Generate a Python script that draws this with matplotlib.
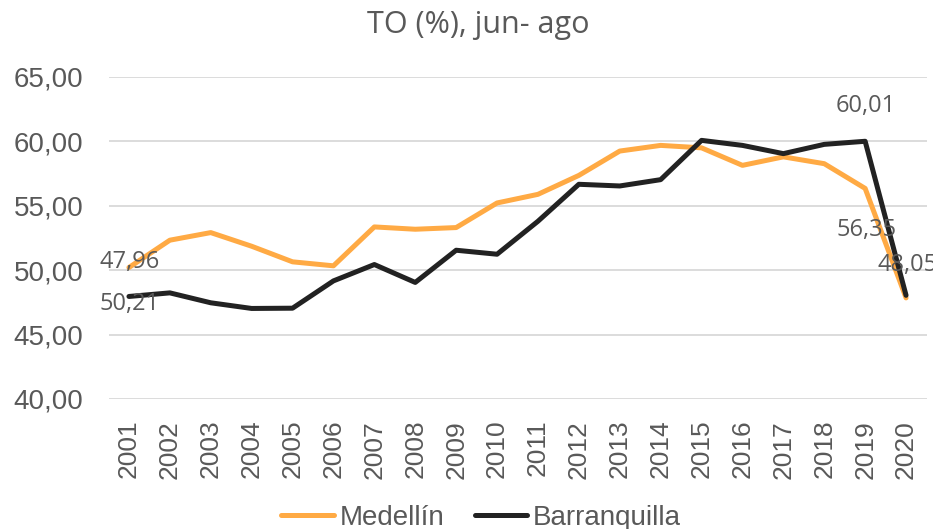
import matplotlib
matplotlib.use("Agg")
import matplotlib.pyplot as plt

years = [str(y) for y in range(2001, 2021)]
medellin = [50.21, 52.33, 52.92, 51.86, 50.65, 50.34, 53.36, 53.18, 53.31, 55.22,
            55.89, 57.36, 59.25, 59.69, 59.50, 58.14, 58.80, 58.27, 56.35, 47.85]
barranquilla = [47.96, 48.24, 47.47, 47.03, 47.05, 49.17, 50.44, 49.05, 51.55, 51.24,
                53.80, 56.67, 56.54, 57.03, 60.08, 59.69, 59.05, 59.77, 60.01, 48.05]

# (series, index, label text, offset in pixels)
labels = [
    (barranquilla, 0, "47,96", (1, 34)),
    (medellin, 0, "50,21", (1, -37)),
    (barranquilla, 18, "60,01", (1, 35)),
    (medellin, 18, "56,35", (1, -42)),
    (barranquilla, 19, "48,05", (2, 30)),
]

GRAY = "#595959"
plt.rcParams["font.family"] = ["Liberation Sans", "DejaVu Sans"]

fig = plt.figure(figsize=(9.33, 5.29), dpi=100)
ax = fig.add_axes([108.5 / 933, 1 - 399 / 529, 818 / 933, 322 / 529])

x = range(len(years))
ax.plot(x, medellin, color="#FFAA44", linewidth=3.6, label="Medellín", solid_capstyle="round")
ax.plot(x, barranquilla, color="#222222", linewidth=3.6, label="Barranquilla", solid_capstyle="round")

for series, i, text, (dx, dy) in labels:
    ax.annotate(text, (i, series[i]), xytext=(dx * 0.72, dy * 0.72), textcoords="offset points",
                ha="center", va="center", fontsize=17, color=GRAY,
                family=["Open Sans", "DejaVu Sans"], annotation_clip=False)

ax.set_xlim(-0.5, len(years) - 0.5)
ax.set_ylim(40, 65)
ax.set_yticks([40, 45, 50, 55, 60, 65])
ax.set_yticklabels([f"{v:.2f}".replace(".", ",") for v in ax.get_yticks()])
ax.set_xticks(list(x))
ax.set_xticklabels(years, rotation=90)
ax.tick_params(length=0, colors=GRAY)
ax.tick_params(axis="y", labelsize=20, pad=18)
ax.tick_params(axis="x", labelsize=19, pad=15)
ax.grid(axis="y", color="#D9D9D9", linewidth=1.3)
ax.set_axisbelow(True)
for s in ax.spines.values():
    s.set_visible(False)

fig.text(478 / 933, 1 - 25 / 529, "TO (%), jun- ago", ha="center", va="center", fontsize=22,
         color=GRAY, family=["Open Sans", "DejaVu Sans"])

ax.legend(loc="center", bbox_to_anchor=(481 / 933, 1 - 518 / 529), bbox_transform=fig.transFigure,
          ncol=2, frameon=False, fontsize=20, labelcolor=GRAY, handlelength=1.9,
          handletextpad=0.2, columnspacing=1.1)

fig.savefig("out.png", dpi=100)
